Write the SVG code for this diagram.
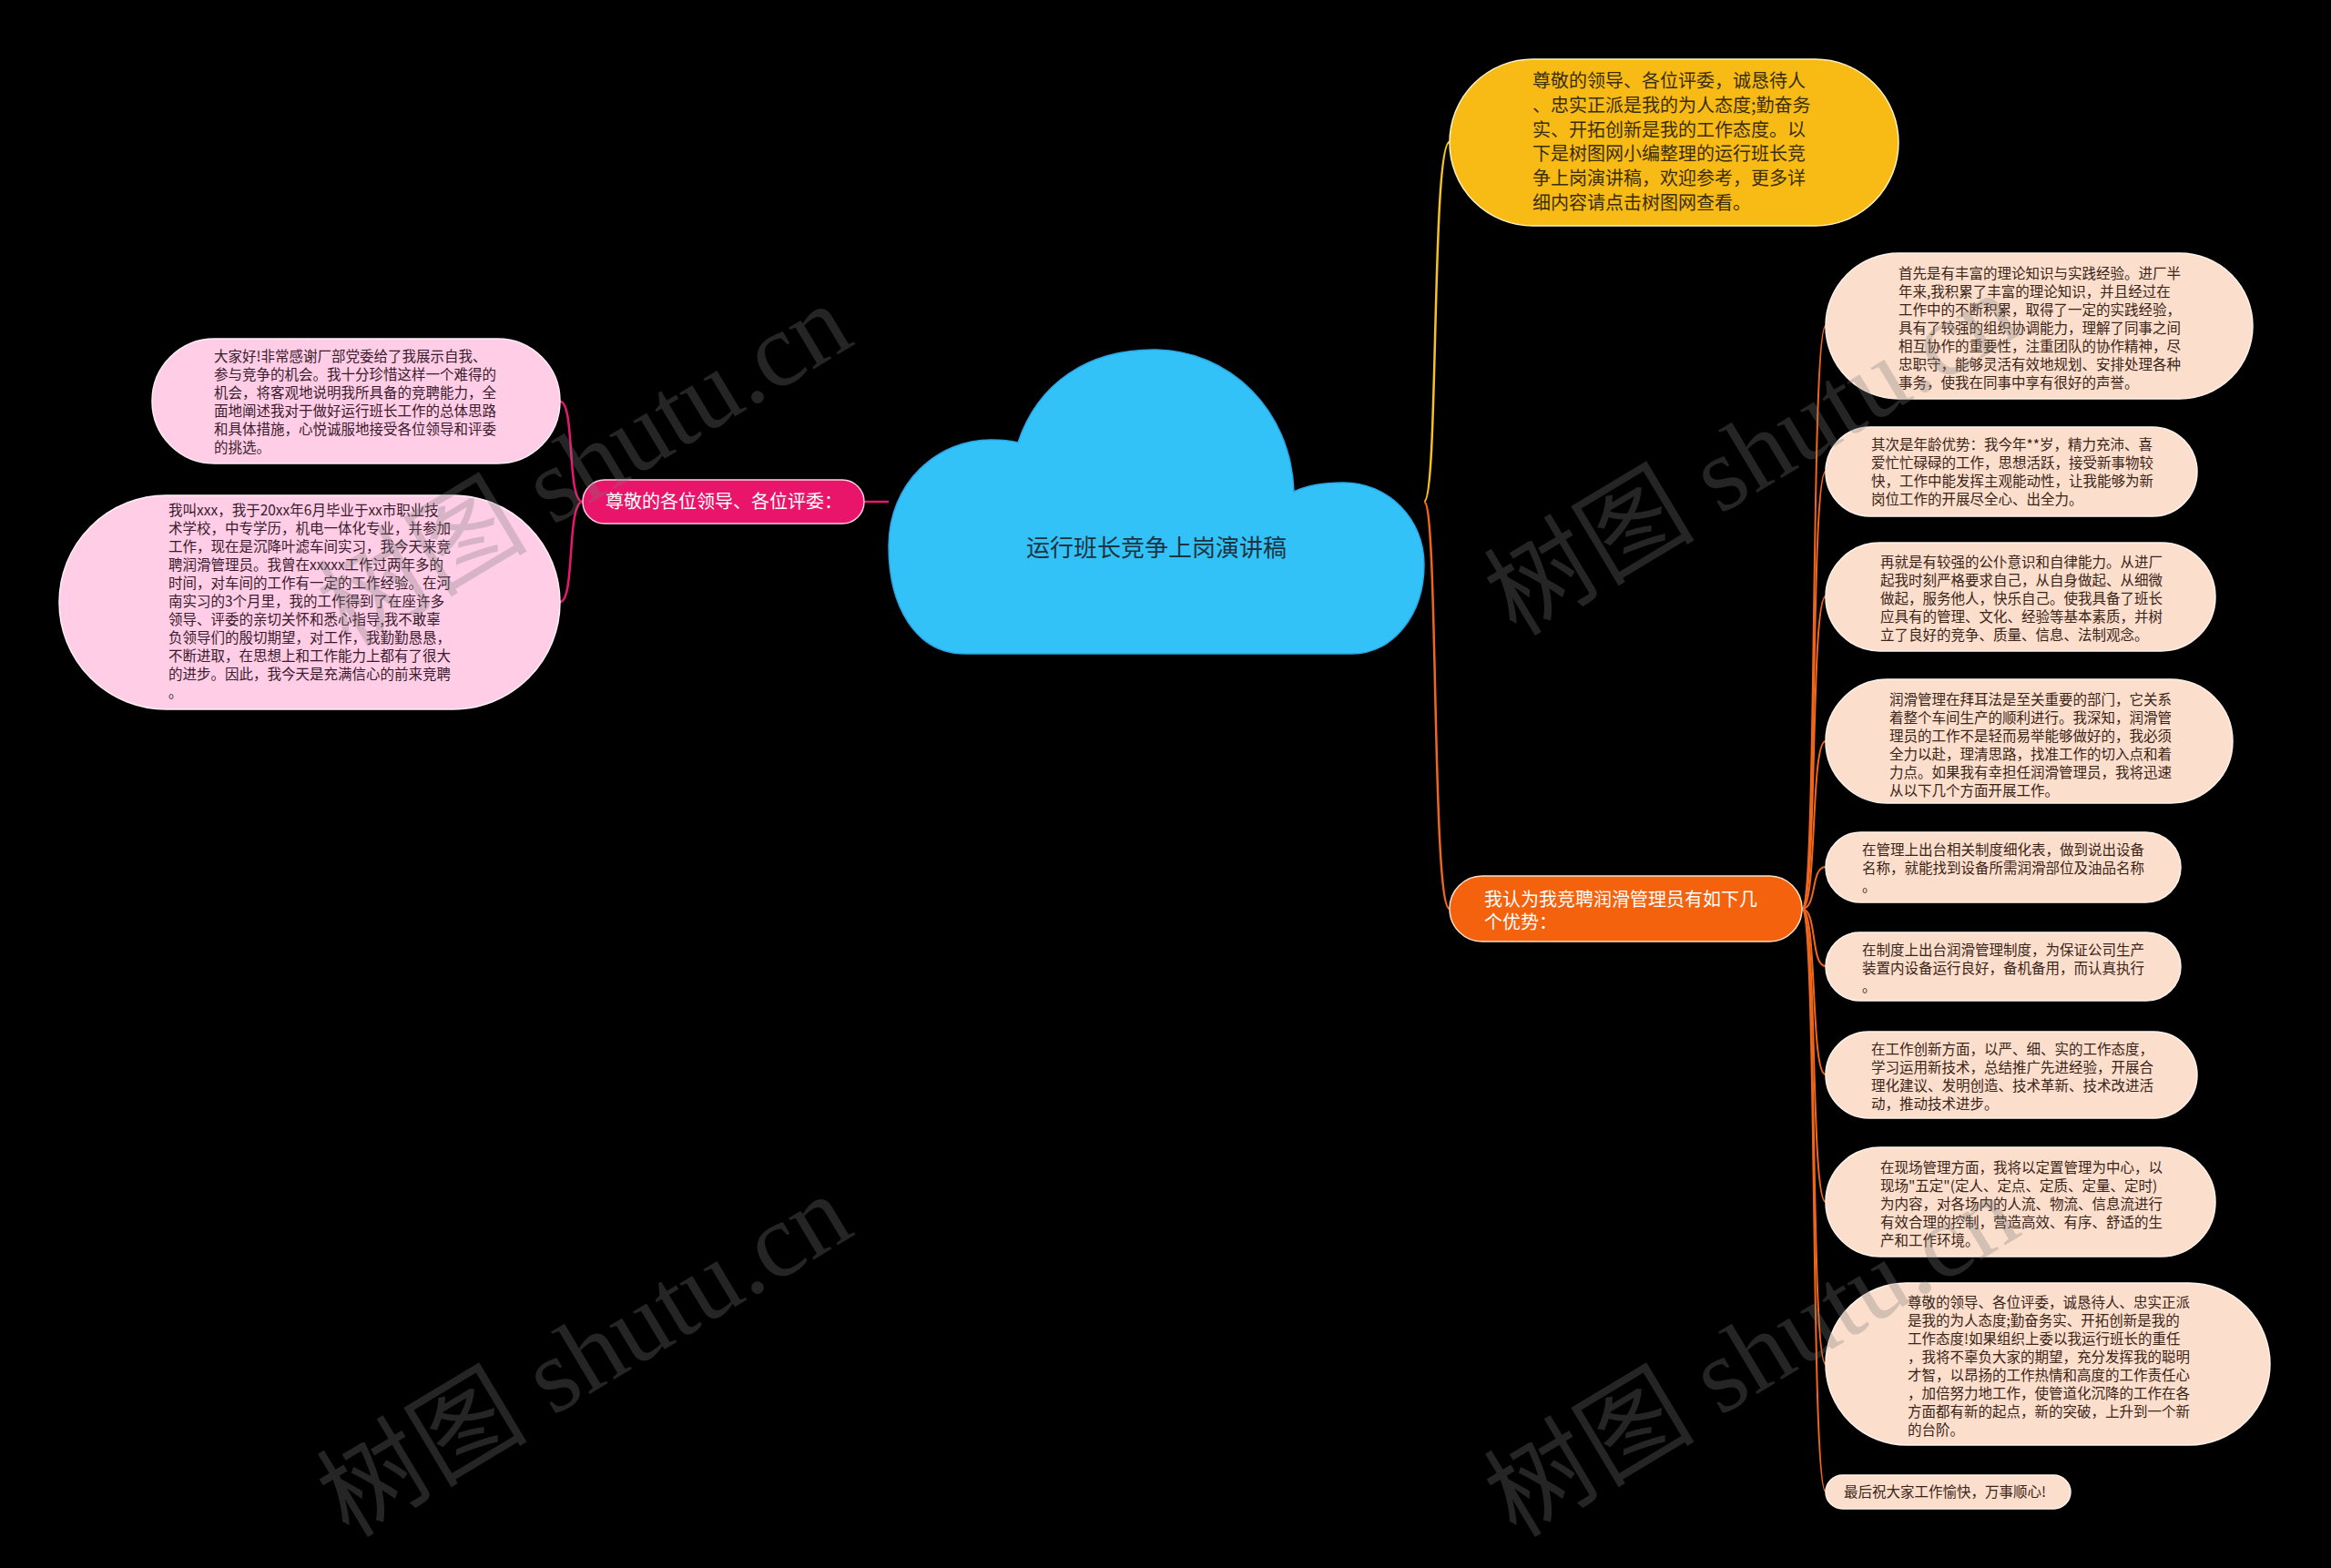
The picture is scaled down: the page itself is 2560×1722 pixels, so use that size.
<svg xmlns="http://www.w3.org/2000/svg" width="2560" height="1722" viewBox="0 0 2560 1722">
<style>
.t{font-family:"Noto Sans CJK SC","Noto Sans",sans-serif;}
.s{font-size:15.5px;}
.peach{fill:#FCDECC;stroke:#FFF3EC;stroke-width:1.5;}
.pink{fill:#FFCDE6;stroke:#FFF0F7;stroke-width:1.5;}
.pt{fill:#3A2418;}
.kt{fill:#3A1A2C;}
.wm{font-family:"Liberation Serif","Noto Sans CJK SC",serif;font-size:116px;fill:#7a7a7a;opacity:0.3;}
</style>
<rect x="0" y="0" width="2560" height="1722" fill="#000000"/>
<g id="connectors" fill="none" stroke-width="2.5">
<path d="M1564 551 C1580 551,1572 156,1592 156" stroke="#F7C21C"/>
<path d="M1564 551 C1580 551,1572 998,1592 998" stroke="#F0661A"/>
<path d="M976 551 L949 551" stroke="#E8186E"/>
<path d="M640 551 C622 551,632 441,615 441" stroke="#E8186E"/>
<path d="M640 551 C622 551,632 661,615 661" stroke="#E8186E"/>
<g stroke="#F0661A" stroke-width="2">
<path d="M1979 998 C1996 998,1988 358,2005 358"/>
<path d="M1979 998 C1996 998,1988 518,2005 518"/>
<path d="M1979 998 C1996 998,1988 655,2005 655"/>
<path d="M1979 998 C1996 998,1988 814,2005 814"/>
<path d="M1979 998 C1996 998,1988 952,2005 952"/>
<path d="M1979 998 C1996 998,1988 1061,2005 1061"/>
<path d="M1979 998 C1996 998,1988 1180,2005 1180"/>
<path d="M1979 998 C1996 998,1988 1320,2005 1320"/>
<path d="M1979 998 C1996 998,1988 1498,2005 1498"/>
<path d="M1979 998 C1996 998,1988 1638,2005 1638"/>
</g>
</g>
<g id="root">
<path d="M1060 718 C1005 718,976 665,976 600 C976 530,1030 482,1090 483 C1100 483,1110 484,1118 486 C1140 420,1195 384,1267 384 C1350 384,1418 450,1421 540 C1435 533,1455 530,1475 530 C1525 530,1564 570,1564 620 C1564 675,1530 718,1485 718 Z" fill="#33C2F7" stroke="#2BA6E6" stroke-width="1.5"/>
<text class="t" x="1270" y="611" font-size="26" text-anchor="middle" fill="#1E3340">运行班长竞争上岗演讲稿</text>
</g>
<g id="n-intro">
<rect x="1592" y="65" width="493" height="183" rx="91.5" fill="#F8BB16" stroke="#FFF2C4" stroke-width="1.5"/>
<text class="t" font-size="20" fill="#3A2E0A">
<tspan x="1683" y="96">尊敬的领导、各位评委，诚恳待人</tspan>
<tspan x="1683" y="123">、忠实正派是我的为人态度;勤奋务</tspan>
<tspan x="1683" y="150">实、开拓创新是我的工作态度。以</tspan>
<tspan x="1683" y="176">下是树图网小编整理的运行班长竞</tspan>
<tspan x="1683" y="203">争上岗演讲稿，欢迎参考，更多详</tspan>
<tspan x="1683" y="230">细内容请点击树图网查看。</tspan>
</text>
</g>
<g id="n-adv">
<rect x="1592" y="962" width="387" height="72" rx="36" fill="#F5620E" stroke="#FFE0CC" stroke-width="1.5"/>
<text class="t" font-size="20" fill="#FFFFFF">
<tspan x="1630" y="995">我认为我竞聘润滑管理员有如下几</tspan>
<tspan x="1630" y="1020">个优势：</tspan>
</text>
</g>
<g id="n-greet">
<rect x="640" y="527" width="309" height="48" rx="24" fill="#E8156B" stroke="#FFD0E2" stroke-width="1.5"/>
<text class="t" x="665" y="558" font-size="20" fill="#FFFFFF">尊敬的各位领导、各位评委：</text>
</g>
<g id="n-l1">
<rect class="pink" x="167" y="372" width="448" height="137" rx="68.5"/>
<text class="t s kt">
<tspan x="235" y="397">大家好!非常感谢厂部党委给了我展示自我、</tspan>
<tspan x="235" y="417">参与竞争的机会。我十分珍惜这样一个难得的</tspan>
<tspan x="235" y="437">机会，将客观地说明我所具备的竞聘能力，全</tspan>
<tspan x="235" y="457">面地阐述我对于做好运行班长工作的总体思路</tspan>
<tspan x="235" y="477">和具体措施，心悦诚服地接受各位领导和评委</tspan>
<tspan x="235" y="497">的挑选。</tspan>
</text>
</g>
<g id="n-l2">
<rect class="pink" x="65" y="544" width="550" height="235" rx="117.5"/>
<text class="t s kt">
<tspan x="185" y="566">我叫xxx，我于20xx年6月毕业于xx市职业技</tspan>
<tspan x="185" y="586">术学校，中专学历，机电一体化专业，并参加</tspan>
<tspan x="185" y="606">工作，现在是沉降叶滤车间实习，我今天来竞</tspan>
<tspan x="185" y="626">聘润滑管理员。我曾在xxxxx工作过两年多的</tspan>
<tspan x="185" y="646">时间，对车间的工作有一定的工作经验。在河</tspan>
<tspan x="185" y="666">南实习的3个月里，我的工作得到了在座许多</tspan>
<tspan x="185" y="686">领导、评委的亲切关怀和悉心指导,我不敢辜</tspan>
<tspan x="185" y="706">负领导们的殷切期望，对工作，我勤勤恳恳，</tspan>
<tspan x="185" y="726">不断进取，在思想上和工作能力上都有了很大</tspan>
<tspan x="185" y="746">的进步。因此，我今天是充满信心的前来竞聘</tspan>
<tspan x="185" y="766">。</tspan>
</text>
</g>
<g id="n-r1">
<rect class="peach" x="2005" y="278" width="469" height="160" rx="80"/>
<text class="t s pt">
<tspan x="2085" y="306">首先是有丰富的理论知识与实践经验。进厂半</tspan>
<tspan x="2085" y="326">年来,我积累了丰富的理论知识，并且经过在</tspan>
<tspan x="2085" y="346">工作中的不断积累，取得了一定的实践经验，</tspan>
<tspan x="2085" y="366">具有了较强的组织协调能力，理解了同事之间</tspan>
<tspan x="2085" y="386">相互协作的重要性，注重团队的协作精神，尽</tspan>
<tspan x="2085" y="406">忠职守，能够灵活有效地规划、安排处理各种</tspan>
<tspan x="2085" y="426">事务，使我在同事中享有很好的声誉。</tspan>
</text>
</g>
<g id="n-r2">
<rect class="peach" x="2005" y="469" width="408" height="98" rx="49"/>
<text class="t s pt">
<tspan x="2055" y="494">其次是年龄优势：我今年**岁，精力充沛、喜</tspan>
<tspan x="2055" y="514">爱忙忙碌碌的工作，思想活跃，接受新事物较</tspan>
<tspan x="2055" y="534">快，工作中能发挥主观能动性，让我能够为新</tspan>
<tspan x="2055" y="554">岗位工作的开展尽全心、出全力。</tspan>
</text>
</g>
<g id="n-r3">
<rect class="peach" x="2005" y="596" width="428" height="119" rx="59.5"/>
<text class="t s pt">
<tspan x="2065" y="623">再就是有较强的公仆意识和自律能力。从进厂</tspan>
<tspan x="2065" y="643">起我时刻严格要求自己，从自身做起、从细微</tspan>
<tspan x="2065" y="663">做起，服务他人，快乐自己。使我具备了班长</tspan>
<tspan x="2065" y="683">应具有的管理、文化、经验等基本素质，并树</tspan>
<tspan x="2065" y="703">立了良好的竞争、质量、信息、法制观念。</tspan>
</text>
</g>
<g id="n-r4">
<rect class="peach" x="2005" y="746" width="447" height="136" rx="68"/>
<text class="t s pt">
<tspan x="2075" y="774">润滑管理在拜耳法是至关重要的部门，它关系</tspan>
<tspan x="2075" y="794">着整个车间生产的顺利进行。我深知，润滑管</tspan>
<tspan x="2075" y="814">理员的工作不是轻而易举能够做好的，我必须</tspan>
<tspan x="2075" y="834">全力以赴，理清思路，找准工作的切入点和着</tspan>
<tspan x="2075" y="854">力点。如果我有幸担任润滑管理员，我将迅速</tspan>
<tspan x="2075" y="874">从以下几个方面开展工作。</tspan>
</text>
</g>
<g id="n-r5">
<rect class="peach" x="2005" y="914" width="390" height="77" rx="38.5"/>
<text class="t s pt">
<tspan x="2045" y="939">在管理上出台相关制度细化表，做到说出设备</tspan>
<tspan x="2045" y="959">名称，就能找到设备所需润滑部位及油品名称</tspan>
<tspan x="2045" y="979">。</tspan>
</text>
</g>
<g id="n-r6">
<rect class="peach" x="2005" y="1024" width="390" height="75" rx="37.5"/>
<text class="t s pt">
<tspan x="2045" y="1049">在制度上出台润滑管理制度，为保证公司生产</tspan>
<tspan x="2045" y="1069">装置内设备运行良好，备机备用，而认真执行</tspan>
<tspan x="2045" y="1089">。</tspan>
</text>
</g>
<g id="n-r7">
<rect class="peach" x="2005" y="1133" width="408" height="95" rx="47.5"/>
<text class="t s pt">
<tspan x="2055" y="1158">在工作创新方面，以严、细、实的工作态度，</tspan>
<tspan x="2055" y="1178">学习运用新技术，总结推广先进经验，开展合</tspan>
<tspan x="2055" y="1198">理化建议、发明创造、技术革新、技术改进活</tspan>
<tspan x="2055" y="1218">动，推动技术进步。</tspan>
</text>
</g>
<g id="n-r8">
<rect class="peach" x="2005" y="1260" width="428" height="120" rx="60"/>
<text class="t s pt">
<tspan x="2065" y="1288">在现场管理方面，我将以定置管理为中心，以</tspan>
<tspan x="2065" y="1308">现场"五定"(定人、定点、定质、定量、定时)</tspan>
<tspan x="2065" y="1328">为内容，对各场内的人流、物流、信息流进行</tspan>
<tspan x="2065" y="1348">有效合理的控制，营造高效、有序、舒适的生</tspan>
<tspan x="2065" y="1368">产和工作环境。</tspan>
</text>
</g>
<g id="n-r9">
<rect class="peach" x="2005" y="1409" width="488" height="178" rx="89"/>
<text class="t s pt">
<tspan x="2095" y="1436">尊敬的领导、各位评委，诚恳待人、忠实正派</tspan>
<tspan x="2095" y="1456">是我的为人态度;勤奋务实、开拓创新是我的</tspan>
<tspan x="2095" y="1476">工作态度!如果组织上委以我运行班长的重任</tspan>
<tspan x="2095" y="1496">，我将不辜负大家的期望，充分发挥我的聪明</tspan>
<tspan x="2095" y="1516">才智，以昂扬的工作热情和高度的工作责任心</tspan>
<tspan x="2095" y="1536">，加倍努力地工作，使管道化沉降的工作在各</tspan>
<tspan x="2095" y="1556">方面都有新的起点，新的突破，上升到一个新</tspan>
<tspan x="2095" y="1576">的台阶。</tspan>
</text>
</g>
<g id="n-r10">
<rect class="peach" x="2005" y="1620" width="269" height="37" rx="18.5"/>
<text class="t s pt" x="2025" y="1644">最后祝大家工作愉快，万事顺心!</text>
</g>
<g id="watermarks">
<text class="wm" transform="translate(383 712) rotate(-31)">树图 shutu.cn</text>
<text class="wm" transform="translate(383 1690) rotate(-31)">树图 shutu.cn</text>
<text class="wm" transform="translate(1665 700) rotate(-31)">树图 shutu.cn</text>
<text class="wm" transform="translate(1665 1690) rotate(-31)">树图 shutu.cn</text>
</g>
</svg>
